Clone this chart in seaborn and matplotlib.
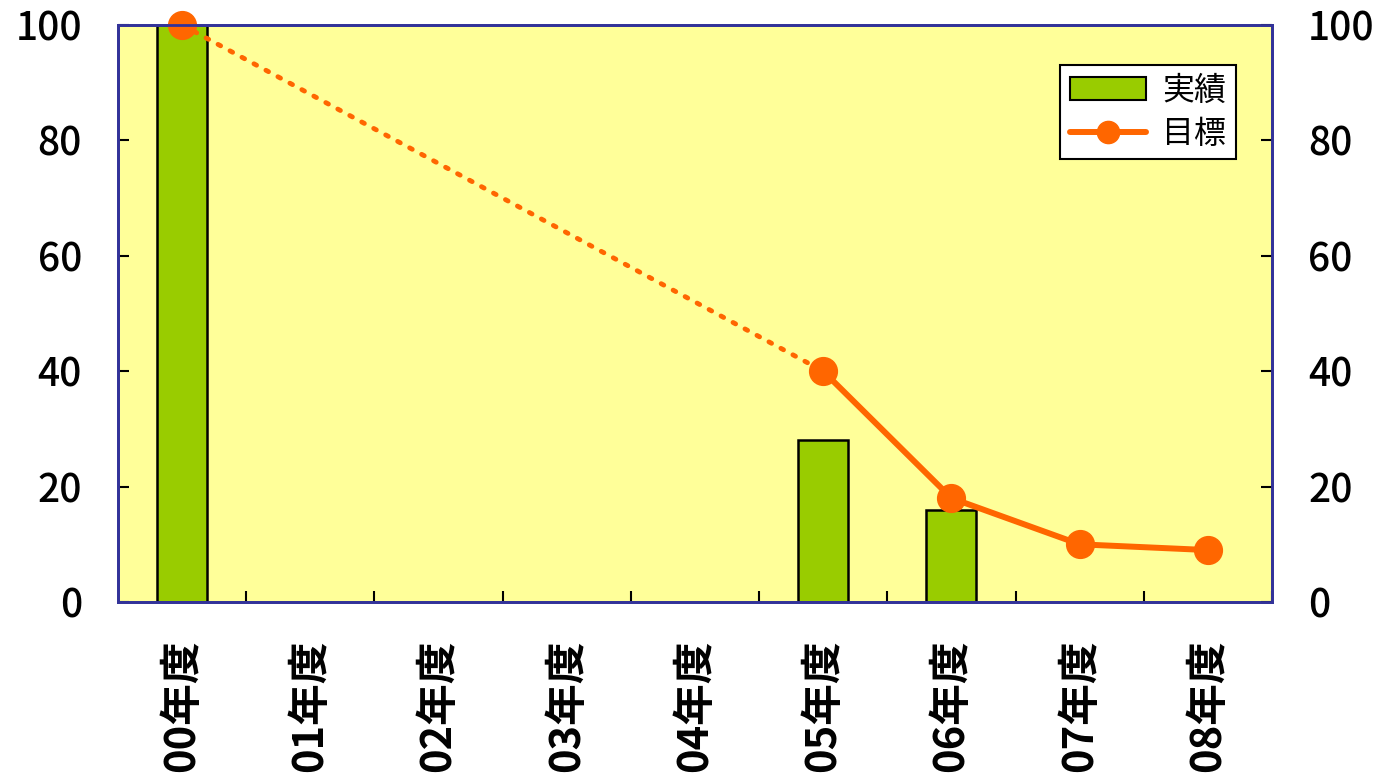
import matplotlib
matplotlib.use("Agg")
import matplotlib.pyplot as plt
import seaborn as sns
import pandas as pd
import numpy as np
from matplotlib.lines import Line2D
from matplotlib.patches import Patch

categories = ["00年度", "01年度", "02年度", "03年度", "04年度", "05年度", "06年度", "07年度", "08年度"]
actual_cats = ["00年度", "05年度", "06年度"]
actual_vals = [100, 28, 16]
target_cats = ["00年度", "05年度", "06年度", "07年度", "08年度"]
target_vals = [100, 40, 18, 10, 9]
yticks = [0, 20, 40, 60, 80, 100]

sns.set_theme(style="white")
plt.rcParams['font.family'] = ['Noto Sans CJK JP', 'DejaVu Sans']
plt.rcParams['text.color'] = 'black'
plt.rcParams['xtick.labelcolor'] = 'black'
plt.rcParams['ytick.labelcolor'] = 'black'

fig = plt.figure(figsize=(13.76, 7.78), dpi=100)
ax = fig.add_axes([118/1376, 1-602/778, (1272-118)/1376, (602-25)/778])
ax.set_facecolor("#FFFF99")

df_bar = pd.DataFrame({"cat": actual_cats, "val": actual_vals})
sns.barplot(data=df_bar, x="cat", y="val", order=categories, color="#99CC00",
            saturation=1, width=0.39, edgecolor="black", linewidth=1.8, ax=ax, zorder=2)

pos = {c: i for i, c in enumerate(categories)}
tx = [pos[c] for c in target_cats]
df_line = pd.DataFrame({"x": tx, "y": target_vals})
# dotted segment
ax.plot(tx[:2], target_vals[:2], color="#FF6600", linestyle=(0, (0.6, 2.2)), linewidth=3.5,
        dash_capstyle="round", zorder=3, clip_on=False)
sns.lineplot(data=df_line.iloc[1:], x="x", y="y", color="#FF6600", linewidth=4.3, ax=ax,
             zorder=4, clip_on=False)
ax.plot(tx, target_vals, linestyle="none", marker="o", markersize=20, color="#FF6600",
        zorder=5, clip_on=False)

ax.set_xlim(-0.5, len(categories) - 0.5)
ax.set_ylim(0, 100)
ax.set_xlabel("")
ax.set_ylabel("")
ax.set_yticks(yticks)
ax.set_yticklabels([str(v) for v in yticks], fontsize=28, fontweight="medium")
ax.set_xticks(np.arange(len(categories)) + 0.5, minor=False)
ax.set_xticklabels([])
ax.tick_params(axis="x", which="major", direction="in", length=8, width=1.5, color="black",
               bottom=True)
for i, c in enumerate(categories):
    ax.text(i, -6.5, c, rotation=90, ha="center", va="top", fontsize=30, fontweight="bold",
            color="black", transform=ax.transData, clip_on=False)
ax.tick_params(axis="y", direction="in", length=8, width=1.5, color="black", left=True, pad=26)
for s in ax.spines.values():
    s.set_color("#333399")
    s.set_linewidth(2)

ax2 = ax.twinx()
ax2.set_ylim(0, 100)
ax2.set_yticks(yticks)
ax2.set_yticklabels([str(v) for v in yticks], fontsize=28, fontweight="medium")
ax2.tick_params(axis="y", direction="in", length=8, width=1.5, color="black", right=True, pad=26)
for s in ax2.spines.values():
    s.set_color("#333399")
    s.set_linewidth(2)
ax2.grid(False)
ax.grid(False)

handles = [Patch(facecolor="#99CC00", edgecolor="black", linewidth=1.5),
           Line2D([0], [0], color="#FF6600", linewidth=4.3, marker="o", markersize=16)]
leg = ax.legend(handles, ["実績", "目標"], loc="upper right", bbox_to_anchor=(1236/1154 - 118/1154, 1-40/577),
                fontsize=23, frameon=True, fancybox=False, framealpha=1, edgecolor="black",
                handlelength=2.4, handleheight=0.7, borderpad=0.3, labelspacing=0.35,
                handletextpad=0.5, borderaxespad=0)
leg.get_frame().set_linewidth(1.5)
leg.set_zorder(10)
for t in leg.get_texts():
    t.set_color("black")

fig.savefig("out.png", dpi=100)
